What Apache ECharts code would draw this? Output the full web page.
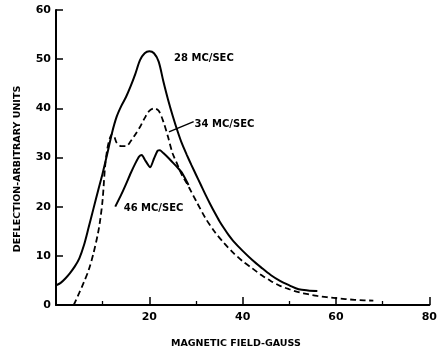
<!DOCTYPE html>
<html>
<head>
<meta charset="utf-8">
<script src="https://cdn.jsdelivr.net/npm/echarts@6/dist/echarts.min.js"></script>
<style>
html,body{margin:0;padding:0;background:#fff;}
#chart{width:440px;height:356px;}
</style>
</head>
<body>
<div id="chart"></div>
<script>
// ---- data ----
var xTicks = [0, 20, 40, 60, 80];
var yTicks = [0, 10, 20, 30, 40, 50, 60];

// 28 MC/SEC (solid)
var mc28X = [0, 1, 2, 3, 4, 5, 6, 7, 8, 9, 10, 11, 12, 13, 14, 15, 16, 17, 18, 19, 20, 21, 22, 23, 24, 25, 26, 27, 28, 29, 30, 31, 32, 33, 34, 35, 36, 37, 38, 40, 42, 44, 46, 48, 50, 52, 54, 56];
var mc28Y = [4.0, 4.5, 5.4, 6.5, 7.8, 9.5, 12.2, 15.8, 19.5, 23.2, 26.8, 30.8, 35.0, 38.3, 40.5, 42.3, 44.5, 47.0, 49.8, 51.2, 51.6, 51.2, 49.5, 45.5, 41.8, 38.5, 35.5, 32.8, 30.6, 28.5, 26.5, 24.5, 22.5, 20.6, 18.8, 17.1, 15.6, 14.2, 13.0, 11.0, 9.2, 7.6, 6.1, 4.9, 4.0, 3.2, 2.95, 2.85];

// 34 MC/SEC (dashed)
var mc34X = [3.8, 5, 6, 7, 8, 9, 9.5, 10, 10.5, 11, 11.5, 12, 12.5, 13, 14, 15, 16, 17, 18, 19, 20, 21, 22, 23, 24, 25, 26, 27, 28, 29, 30, 32, 34, 36, 38, 40, 42, 44, 46, 48, 50, 52, 54, 56, 58, 60, 62, 64, 66, 68];
var mc34Y = [0, 2.5, 4.7, 7.1, 10.4, 14.6, 17.5, 21.5, 28.0, 31.8, 33.8, 34.7, 34.2, 33.0, 32.3, 32.3, 33.3, 34.7, 36.2, 38.0, 39.5, 40.0, 39.5, 37.3, 34.2, 30.8, 28.6, 26.4, 24.8, 23.0, 21.2, 17.7, 14.9, 12.6, 10.6, 8.9, 7.5, 6.1, 4.9, 3.9, 3.2, 2.6, 2.2, 1.85, 1.6, 1.4, 1.2, 1.05, 0.95, 0.9];

// 46 MC/SEC (solid, double peak)
var mc46X = [12.7, 14, 15, 16, 17, 17.8, 18.4, 19, 20.2, 21, 21.8, 22.3, 23, 24, 25, 26, 27, 28.4];
var mc46Y = [20.0, 22.5, 24.6, 26.8, 28.8, 30.2, 30.5, 29.6, 28.0, 29.8, 31.4, 31.5, 30.9, 30.0, 29.0, 28.0, 26.9, 24.4];

// leader line for the 34 MC/SEC label
var leaderX = [24.2, 29.5];
var leaderY = [35.2, 37.3];

// curve labels (anchor at left edge of text)
var labelText = ['28 MC/SEC', '34 MC/SEC', '46 MC/SEC'];
var labelX = [25.3, 29.7, 14.5];
var labelY = [50.2, 36.8, 19.7];

var axisTitleX = 'MAGNETIC FIELD-GAUSS';
var axisTitleY = 'DEFLECTION-ARBITRARY UNITS';

function zip(xs, ys) { return xs.map(function (x, i) { return [x, ys[i]]; }); }

var FONT = 'DejaVu Sans';
var chart = echarts.init(document.getElementById('chart'), null, {renderer: 'canvas'});

var option = {
  backgroundColor: '#fff',
  animation: false,
  grid: {left: 56, right: 2, top: 10, bottom: 51, containLabel: false},
  xAxis: {
    type: 'value', min: xTicks[0], max: xTicks[xTicks.length - 1], interval: 20,
    axisLine: {lineStyle: {color: '#000', width: 2}},
    axisTick: {inside: true, length: 8, lineStyle: {color: '#000', width: 1.5}},
    minorTick: {show: true, splitNumber: 2, length: 4, lineStyle: {color: '#000', width: 1.3}},
    splitLine: {show: false},
    axisLabel: {color: '#000', fontFamily: FONT, fontWeight: 'bold', fontSize: 11, margin: 7, showMinLabel: false}
  },
  yAxis: {
    type: 'value', min: yTicks[0], max: yTicks[yTicks.length - 1], interval: 10,
    axisLine: {lineStyle: {color: '#000', width: 2}},
    axisTick: {inside: true, length: 7, lineStyle: {color: '#000', width: 1.5}},
    splitLine: {show: false},
    axisLabel: {color: '#000', fontFamily: FONT, fontWeight: 'bold', fontSize: 11, margin: 5}
  },
  graphic: [
    {type: 'text', left: 236 - 65, top: 339, style: {text: axisTitleX, fill: '#000', font: 'bold 9.5px "DejaVu Sans"'}},
    {type: 'text', x: 18, y: 169, rotation: Math.PI / 2,
     style: {text: axisTitleY, fill: '#000', font: 'bold 9.5px "DejaVu Sans"', align: 'center', verticalAlign: 'middle'}}
  ],
  series: [
    {type: 'line', name: '28 MC/SEC', data: zip(mc28X, mc28Y), smooth: 0.3, showSymbol: false,
     lineStyle: {color: '#000', width: 2}},
    {type: 'line', name: '34 MC/SEC', data: zip(mc34X, mc34Y), smooth: 0.3, showSymbol: false,
     lineStyle: {color: '#000', width: 1.8, type: [6, 3.5]}},
    {type: 'line', name: '46 MC/SEC', data: zip(mc46X, mc46Y), smooth: 0.2, showSymbol: false,
     lineStyle: {color: '#000', width: 2}},
    {type: 'line', name: 'leader', data: zip(leaderX, leaderY), showSymbol: false,
     lineStyle: {color: '#000', width: 1.4}},
    {type: 'scatter', name: 'labels', symbolSize: 0, itemStyle: {opacity: 1, color: '#000'},
     data: labelText.map(function (t, i) { return {value: [labelX[i], labelY[i]], name: t}; }),
     label: {show: true, position: 'right', distance: 0, formatter: '{b}', color: '#000', opacity: 1,
             fontFamily: FONT, fontWeight: 'bold', fontSize: 10}}
  ]
};
chart.setOption(option);
</script>
</body>
</html>
